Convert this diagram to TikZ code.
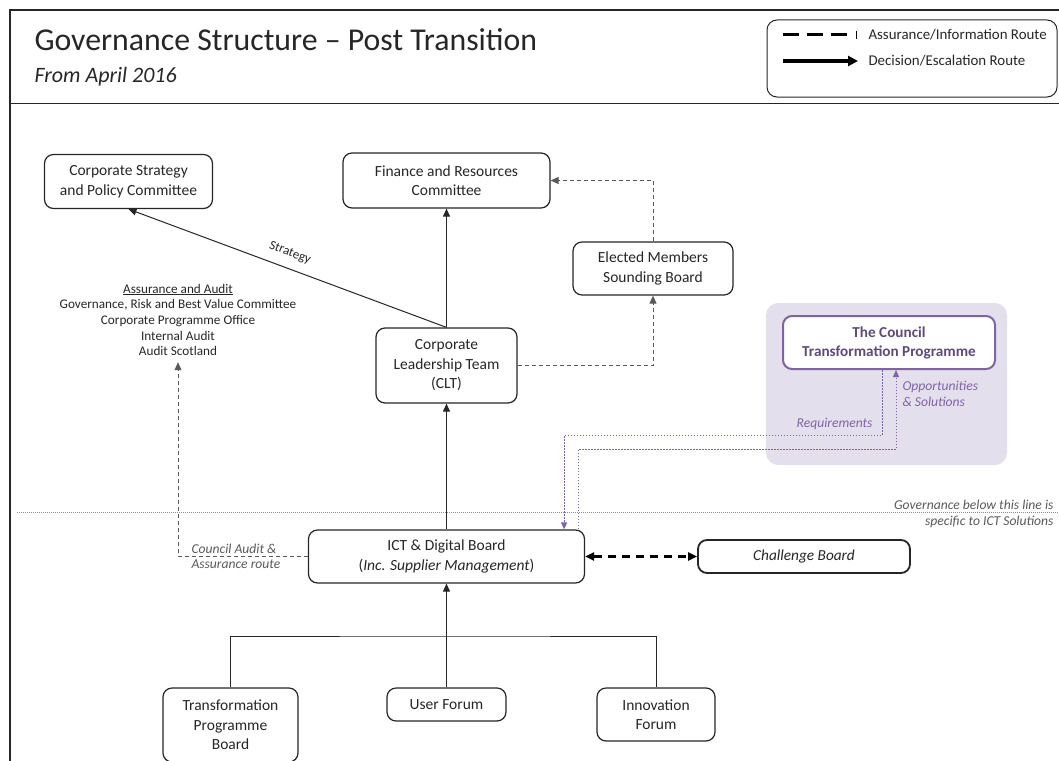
\documentclass[tikz,border=0pt]{standalone}
\usepackage{fontspec}
\setmainfont{Carlito}
\usepackage{tikz}
\usetikzlibrary{arrows.meta,positioning,calc}
\definecolor{gvink}     {HTML}{262626}
\definecolor{gvgrey}    {HTML}{595959}
\definecolor{gvrule}    {HTML}{8C8C8C}
\definecolor{gvplum}    {HTML}{8064A2}
\definecolor{gvplumtext}{HTML}{5F497A}
\definecolor{gvlav}     {HTML}{E4DFEC}
\tikzset{
  gvnode/.style={draw=gvink, fill=white, rounded corners=9pt, line width=1.2pt,
                 align=center, inner sep=2pt, text=gvink,
                 font=\fontsize{15.5}{19.5}\selectfont},
  gvboldnode/.style={gvnode, line width=1.8pt},
  gvplumnode/.style={gvnode, draw=gvplum, line width=2pt, text=gvplumtext,
                     font=\fontsize{15.2}{19}\selectfont\bfseries},
  gvedge/.style={-{Triangle[length=8pt,width=7pt]}, draw=gvink, line width=1pt},
  gvdash/.style={gvedge, draw=gvgrey, dash pattern=on 4pt off 3pt},
  gvbothdash/.style={{Triangle[length=9pt,width=8pt]}-{Triangle[length=9pt,width=8pt]},
                     draw=black, line width=2.2pt, dash pattern=on 8pt off 6pt},
  gvplumedge/.style={-{Triangle[length=7pt,width=6pt]}, draw=gvplum, line width=0.9pt,
                     dash pattern=on 1.5pt off 1.5pt},
  gvlabel/.style={font=\fontsize{13.6}{15.5}\selectfont\itshape, text=gvgrey},
  gvplumlabel/.style={font=\fontsize{13.6}{16}\selectfont\itshape, text=gvplum},
}

\begin{document}
\begin{tikzpicture}[x=1pt,y=-1pt]
  \useasboundingbox (0,0) rectangle (1059,760);
  % frame and heading
  \draw[line width=2pt, gvink] (10,10) rectangle (1080,790);
  \draw[line width=1pt, gvink] (10,103) -- (1080,103);
  \node[anchor=base west, font=\fontsize{31.8}{36}\selectfont, text=gvink] (title) at (31,51)
    {Governance Structure – Post Transition};
  \node[anchor=base west, font=\fontsize{22}{26}\selectfont\itshape, text=gvink] (subtitle) at (31,82)
    {From April 2016};
  % legend
  \draw[line width=1pt, gvink, rounded corners=10pt] (767,20) rectangle (1057,97);
  \draw[line width=3pt, dash pattern=on 16pt off 8pt] (783,35) -- (850,35);
  \draw[line width=1pt] (856,31) -- (856,39);
  \draw[line width=3pt, -{Triangle[length=10pt,width=10pt]}] (783,61) -- (858,61);
  \node[anchor=west, font=\fontsize{14.9}{17}\selectfont, text=gvink] (lgdash) at (865,35) {Assurance/Information Route};
  \node[anchor=west, font=\fontsize{14.9}{17}\selectfont, text=gvink] (lgsolid) at (865,61) {Decision/Escalation Route};

  % upper governance
  \node[gvnode, minimum width=168pt, minimum height=54pt] (cspc) at (128.5,181.5)
    {Corporate Strategy\\and Policy Committee};
  \node[gvnode, minimum width=207pt, minimum height=55pt] (frc) at (446.5,180.5)
    {Finance and Resources\\Committee};
  \node[gvnode, minimum width=160pt, minimum height=53pt] (emsb) at (653,268.5)
    {Elected Members\\Sounding Board};
  \node[gvnode, minimum width=141pt, minimum height=75pt] (clt) at (446.5,365.5)
    {Corporate\\Leadership Team\\(CLT)};
  \node[align=center, text=gvink, font=\fontsize{13.2}{15.7}\selectfont, inner sep=6pt] (assure) at (178,320)
    {\underline{Assurance and Audit}\\
     Governance, Risk and Best Value Committee\\
     Corporate Programme Office\\
     Internal Audit\\
     Audit Scotland};

  % council programme
  \node[fill=gvlav, rounded corners=12pt, minimum width=241pt, minimum height=162pt] (tctpbg) at (886.5,384) {};
  \node[gvplumnode, minimum width=212pt, minimum height=53pt] (tctp) at (889,342.5)
    {The Council\\Transformation Programme};

  % ICT line
  \draw[gvrule, line width=0.8pt, dash pattern=on 1pt off 1pt] (17,512) -- (1059,512);
  \node[gvlabel, anchor=east, align=right] (belowline) at (1057,514)
    {Governance below this line is\\specific to ICT Solutions};

  % ICT governance
  \node[gvnode, minimum width=276pt, minimum height=53pt] (ict) at (446.5,556.5)
    {ICT \& Digital Board\\(\textit{Inc. Supplier Management})};
  \node[gvboldnode, minimum width=212pt, minimum height=33pt, font=\fontsize{15.3}{19}\selectfont\itshape] (chb) at (804,556.5)
    {Challenge Board};
  \node[gvnode, minimum width=135pt, minimum height=74pt] (tpb) at (230.5,725)
    {Transformation\\Programme\\Board};
  \node[gvnode, minimum width=119pt, minimum height=33pt] (uf) at (446.5,704.5)
    {User Forum};
  \node[gvnode, minimum width=118pt, minimum height=53pt] (inf) at (656,714.5)
    {Innovation\\Forum};
  \coordinate (fork) at (446.5,636);

  % routes
  \draw[gvedge] (clt.north) -- (frc.south);
  \draw[gvedge] (clt.north) -- (cspc.south);
  \node[font=\fontsize{13}{15}\selectfont, text=gvink, rotate=-20.5, inner sep=1pt] (strat) at (290,253) {Strategy};
  \draw[gvdash] (clt.east) -| (emsb.south);
  \draw[gvdash] (emsb.north) |- (frc.east);
  \draw[gvedge] (ict.north) -- (clt.south);
  \draw[gvdash] (ict.west) -| (assure.south);
  \node[gvlabel, anchor=west, align=left] (auditlbl) at (188,556.5)
    {Council Audit \&\\Assurance route};
  \draw[gvbothdash] (ict.east) -- (chb.west);
  \draw[gvplumedge] ([xshift=-7pt]tctp.south) -- ++(0,65) -| ([xshift=-21pt]ict.north east);
  \draw[gvplumedge] ([xshift=-7pt]ict.north east) -- ++(0,-80) -| ([xshift=7pt]tctp.south);
  \node[gvplumlabel, anchor=east] (reqlbl) at (876,424) {Requirements};
  \node[gvplumlabel, anchor=west, align=left] (opplbl) at (899,394) {Opportunities\\\& Solutions};
  \draw[gvink, line width=1pt] (tpb.north) |- (fork) -| (inf.north);
  \draw[gvedge] (uf.north) -- (ict.south);
\end{tikzpicture}
\end{document}
